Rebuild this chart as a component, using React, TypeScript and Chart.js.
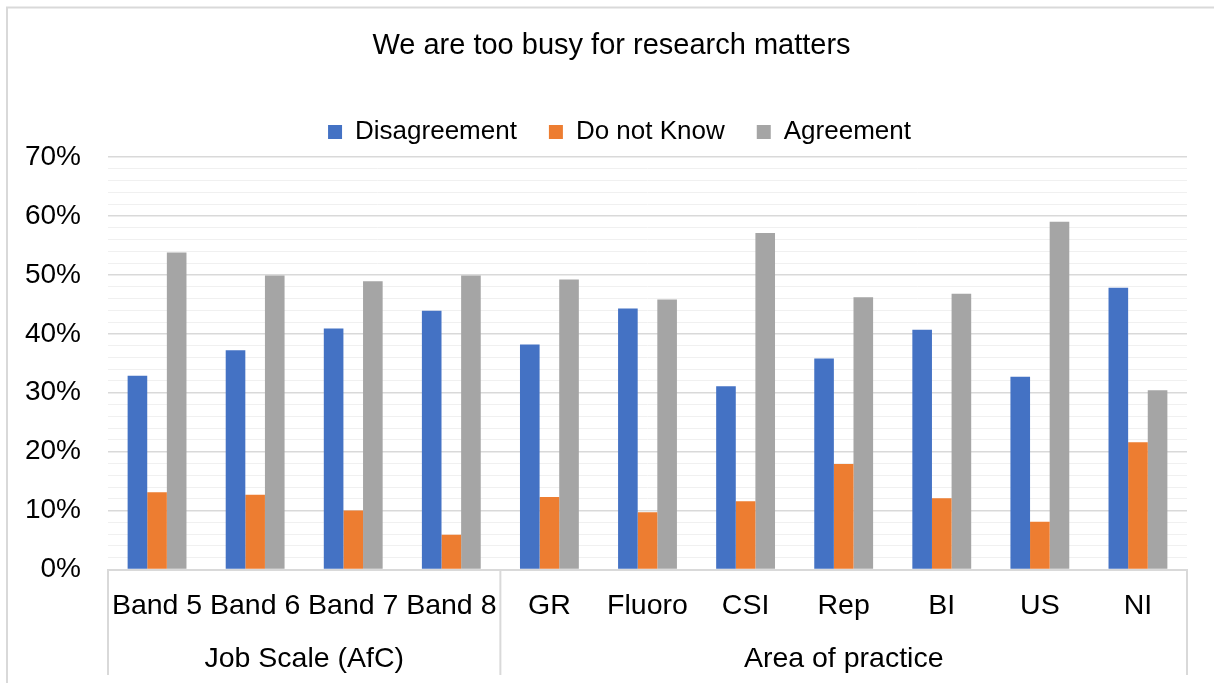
import { useEffect, useRef } from 'react';
import { Chart, registerables } from 'chart.js';

Chart.register(...registerables);

// Categories on the inner axis row, and the groups they belong to on the outer row
const categories = ['Band 5', 'Band 6', 'Band 7', 'Band 8', 'GR', 'Fluoro', 'CSI', 'Rep', 'BI', 'US', 'NI'];
const groupNames = ['Job Scale (AfC)', 'Area of practice'];
const groupSizes = [4, 7];

// Share of respondents (%) per answer
const seriesNames = ['Disagreement', 'Do not Know', 'Agreement'];
const disagreement = [32.9, 37.2, 40.9, 43.9, 38.2, 44.3, 31.1, 35.8, 40.7, 32.7, 47.8];
const doNotKnow = [13.1, 12.7, 10.0, 5.9, 12.3, 9.7, 11.6, 17.9, 12.1, 8.1, 21.6];
const agreement = [53.8, 49.9, 48.9, 49.9, 49.2, 45.8, 57.1, 46.2, 46.8, 59.0, 30.4];
const seriesColors = ['#4472C4', '#ED7D31', '#A5A5A5'];

// Value axis
const yMax = 70;
const yMajorStep = 10;
const yMinorStep = 2;

const FONT = '"Liberation Sans", Arial, sans-serif';
const CATEGORY_FONT_SIZE = 28.5;

// White background and the light frame around the chart
const chartFrame = {
  id: 'chartFrame',
  beforeDraw(chart: any) {
    const { ctx, width, height } = chart;
    ctx.save();
    ctx.fillStyle = '#ffffff';
    ctx.fillRect(0, 0, width, height);
    ctx.strokeStyle = '#d9d9d9';
    ctx.lineWidth = 2;
    ctx.beginPath();
    ctx.moveTo(7, height + 2);
    ctx.lineTo(7, 7.5);
    ctx.lineTo(width + 2, 7.5);
    ctx.stroke();
    ctx.restore();
  },
};

// Outer category row: dividers between groups and the group names
const groupAxis = {
  id: 'groupAxis',
  afterDraw(chart: any) {
    const { ctx, chartArea, height } = chart;
    const x = chart.scales.x;
    const lineEnd = height - 8;
    const bounds: number[] = [chartArea.left];
    let idx = 0;
    groupSizes.forEach((n) => {
      idx += n;
      if (idx < categories.length) {
        bounds.push((x.getPixelForValue(idx - 1) + x.getPixelForValue(idx)) / 2);
      } else {
        bounds.push(chartArea.right);
      }
    });
    ctx.save();
    ctx.strokeStyle = '#d9d9d9';
    ctx.lineWidth = 2;
    bounds.forEach((b) => {
      ctx.beginPath();
      ctx.moveTo(b, chartArea.bottom);
      ctx.lineTo(b, lineEnd);
      ctx.stroke();
    });
    ctx.font = `${CATEGORY_FONT_SIZE}px ${FONT}`;
    ctx.fillStyle = '#000000';
    ctx.textAlign = 'center';
    ctx.textBaseline = 'alphabetic';
    groupNames.forEach((g, i) => {
      ctx.fillText(g, (bounds[i] + bounds[i + 1]) / 2, lineEnd - 8);
    });
    ctx.restore();
  },
};

// Nudges the title and legend blocks into place after layout
const headerPlacement = {
  id: 'headerPlacement',
  afterLayout(chart: any, _args: any, opts: any) {
    const shift = (box: any, dx: number, dy: number) => {
      if (!box) return;
      box.left += dx;
      box.right += dx;
      box.top += dy;
      box.bottom += dy;
    };
    shift(chart.titleBlock, opts.titleDx, 0);
    shift(chart.legend, opts.legendDx, opts.legendDy);
  },
};

export default function App() {
  const canvasRef = useRef<HTMLCanvasElement | null>(null);

  useEffect(() => {
    const canvas = canvasRef.current;
    if (!canvas) return;
    const values = [disagreement, doNotKnow, agreement];
    const chart = new Chart(canvas, {
      type: 'bar',
      data: {
        labels: categories,
        datasets: seriesNames.map((name, i) => ({
          label: name,
          data: values[i],
          backgroundColor: seriesColors[i],
          borderWidth: 0,
          categoryPercentage: 0.6,
          barPercentage: 1,
        })),
      },
      options: {
        responsive: false,
        animation: false,
        layout: { padding: { left: 0, right: 27, top: 0, bottom: 0 } },
        scales: {
          x: {
            grid: { display: false, drawTicks: false },
            border: { display: true, color: '#d9d9d9', width: 2 },
            ticks: {
              color: '#000000',
              font: { size: CATEGORY_FONT_SIZE, family: FONT },
              padding: 20,
              maxRotation: 0,
              autoSkip: false,
            },
            afterFit(scale: any) {
              scale.height = 113.5;
            },
          },
          y: {
            min: 0,
            max: yMax,
            grid: {
              drawTicks: false,
              color: (c: any) => (c.tick && c.tick.value % yMajorStep === 0 ? '#d9d9d9' : '#f0f0f0'),
              lineWidth: (c: any) => (c.tick && c.tick.value % yMajorStep === 0 ? 1.5 : 1),
            },
            border: { display: false },
            ticks: {
              stepSize: yMinorStep,
              autoSkip: false,
              color: '#000000',
              font: { size: 28, family: FONT },
              padding: 27,
              callback: (v: any) => (Number(v) % yMajorStep === 0 ? `${v}%` : ''),
            },
            afterFit(scale: any) {
              scale.width = 108;
            },
          },
        },
        plugins: {
          title: {
            display: true,
            text: 'We are too busy for research matters',
            color: '#000000',
            font: { size: 29, weight: 'normal', family: FONT },
            padding: { top: 28.6, bottom: 25.6 },
          },
          legend: {
            display: true,
            position: 'top',
            labels: {
              boxWidth: 14,
              boxHeight: 14,
              padding: 32,
              color: '#000000',
              font: { size: 26, family: FONT },
            },
          },
          tooltip: { enabled: false },
          headerPlacement: { titleDx: 18, legendDx: 26, legendDy: -2 },
        } as any,
      },
      plugins: [chartFrame, groupAxis, headerPlacement],
    });
    return () => chart.destroy();
  }, []);

  return (
    <div style={{ position: 'fixed', left: 0, top: 0, width: 1214, height: 683, background: '#ffffff' }}>
      <canvas ref={canvasRef} width={1214} height={683} style={{ display: 'block' }} />
    </div>
  );
}
